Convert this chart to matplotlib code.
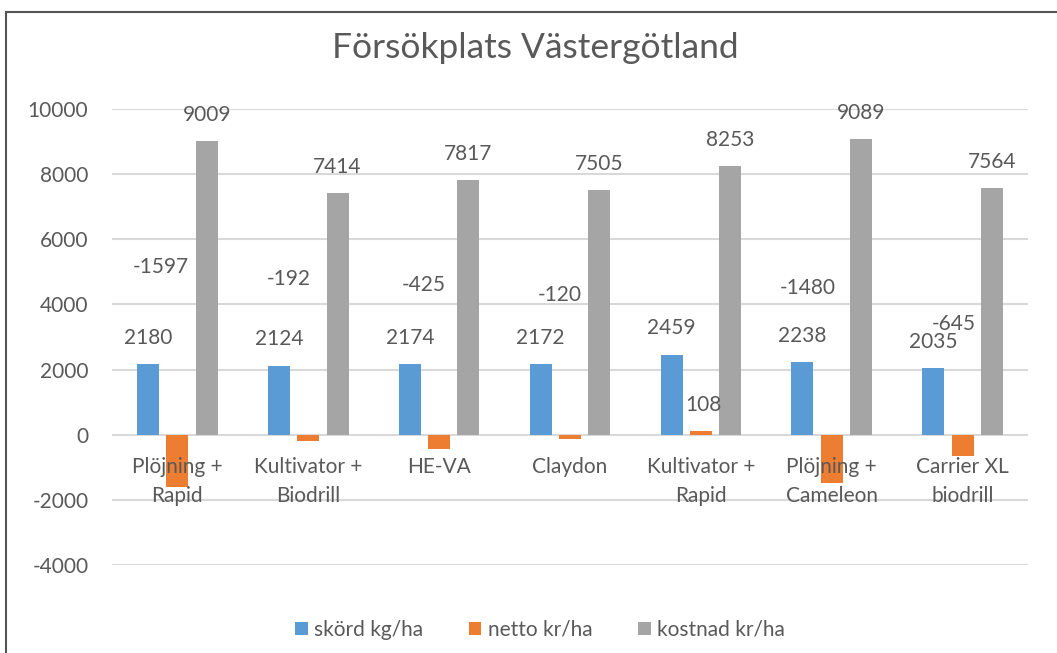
import numpy as np
import matplotlib
matplotlib.use("Agg")
import matplotlib.pyplot as plt
from matplotlib.lines import Line2D

plt.rcParams["font.family"] = ["Lato", "DejaVu Sans"]
plt.rcParams["axes.unicode_minus"] = False

categories = ["Plöjning +\nRapid", "Kultivator +\nBiodrill", "HE-VA", "Claydon",
              "Kultivator +\nRapid", "Plöjning +\nCameleon", "Carrier XL\nbiodrill"]
skord = [2180, 2124, 2174, 2172, 2459, 2238, 2035]
netto = [-1597, -192, -425, -120, 108, -1480, -645]
kostnad = [9009, 7414, 7817, 7505, 8253, 9089, 7564]
series_names = ["skörd kg/ha", "netto kr/ha", "kostnad kr/ha"]
colors = ["#5B9BD5", "#ED7D31", "#A5A5A5"]

# netto labels were moved by hand in the original chart
netto_label_dx = [-0.13, -0.15, -0.12, -0.08, 0.02, -0.18, -0.07]
netto_label_y = [5150, 4780, 4610, 4290, 920, 4510, 3390]

txt = "#595959"
fs = 15
W, H = 1057, 653
fig = plt.figure(figsize=(W / 100, H / 100), dpi=100)
ax = fig.add_axes([112 / W, (H - 565) / H, 916 / W, 456 / H])

x = np.arange(len(categories))
bw = 0.168
step = 0.224
for i, (vals, name, col) in enumerate(zip([skord, netto, kostnad], series_names, colors)):
    ax.bar(x + (i - 1) * step, vals, width=bw, color=col, label=name, zorder=3)

for xi, v in zip(x, skord):
    ax.annotate(str(v), (xi - step, v), xytext=(0, 14.5), textcoords="offset points",
                ha="center", va="baseline", fontsize=fs, color=txt)
for xi, v in zip(x, kostnad):
    ax.annotate(str(v), (xi + step, v), xytext=(0, 14.5), textcoords="offset points",
                ha="center", va="baseline", fontsize=fs, color=txt)
for xi, v, dx, ly in zip(x, netto, netto_label_dx, netto_label_y):
    ax.text(xi + dx, ly, str(v), ha="center", va="center", fontsize=fs, color=txt)

for xi, c in zip(x, categories):
    ax.text(xi, -680, c, ha="center", va="top", fontsize=fs, color=txt,
            linespacing=1.55, zorder=4)

ax.set_xlim(-0.5, len(categories) - 0.5)
ax.set_ylim(-4000, 10000)
ax.set_yticks(np.arange(-4000, 10001, 2000))
ax.set_xticks([])
ax.tick_params(axis="y", length=0, pad=17, labelsize=fs, labelcolor=txt)
ax.grid(axis="y", color="#D9D9D9", linewidth=1.5, zorder=0)
for s in ax.spines.values():
    s.set_visible(False)

fig.text(535 / W, 1 - 48 / H, "Försökplats Västergötland", ha="center", va="center",
         fontsize=25.5, color=txt)

fig.legend(loc="center", bbox_to_anchor=(540 / W, 1 - 630 / H), ncol=3, frameon=False,
           fontsize=fs, handlelength=0.6, handleheight=0.6, handletextpad=0.3,
           columnspacing=2.2, labelcolor=txt)

fig.add_artist(Line2D([6 / W, 1], [1 - 12 / H, 1 - 12 / H], color="#555555", linewidth=1.5))
fig.add_artist(Line2D([6 / W, 6 / W], [1 - 12 / H, 0], color="#555555", linewidth=1.5))

fig.savefig("out.png", dpi=100)
